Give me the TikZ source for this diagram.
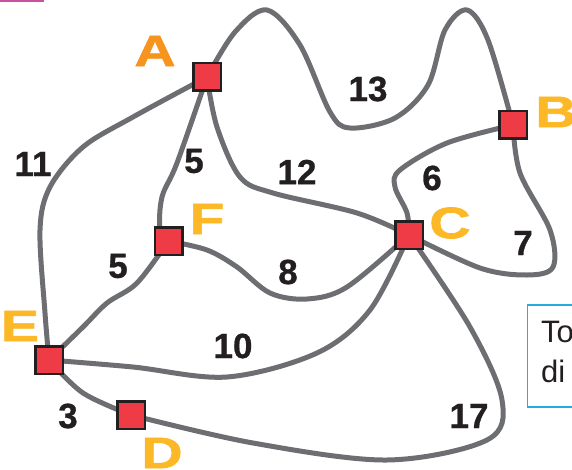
\documentclass[tikz,border=0pt]{standalone}
\usepackage{fontspec}
\setmainfont{Liberation Sans}
\newfontfamily\lblfont{Liberation Sans}[FakeStretch=1.3, FakeBold=1.5]
\newfontfamily\numfont{Liberation Sans}[FakeBold=0.8]
\usetikzlibrary{backgrounds}
\definecolor{edgegray}{HTML}{6D6E71}
\definecolor{nodered}{HTML}{EF3B45}
\definecolor{inkdark}{HTML}{231F20}
\definecolor{lblorange}{HTML}{F7941D}
\definecolor{lblyellow}{HTML}{FDB827}
\definecolor{boxblue}{HTML}{29ABE2}
\definecolor{pinkbar}{HTML}{C8529F}
\begin{document}
\begin{tikzpicture}[x=1pt,y=-1pt,
  vert/.style={draw=inkdark, fill=nodered, line width=2.5pt, minimum size=27.5pt, inner sep=0pt},
  edge/.style={draw=edgegray, line width=5pt, line cap=round, line join=round},
  wlabel/.style={text=inkdark, font=\fontsize{35}{40}\selectfont\numfont\bfseries, inner sep=0pt},
  vlabel/.style={font=\fontsize{44}{48}\selectfont\lblfont\bfseries, inner sep=0pt},
  boxtext/.style={text=inkdark, font=\fontsize{31}{36}\selectfont, inner sep=0pt, anchor=base west}]
\useasboundingbox (0,0) rectangle (572,470);
\clip (0,0) rectangle (572,470);
\fill[pinkbar] (0,0) rectangle (44,1.6);

% vertices
\node[vert] (A) at (207,77) {};
\node[vert] (B) at (513,125) {};
\node[vert] (C) at (409,235) {};
\node[vert] (D) at (131,415) {};
\node[vert] (E) at (49,360) {};
\node[vert] (F) at (168.5,241) {};

% edges
\begin{pgfonlayer}{background}
\draw[edge] plot[smooth, tension=0.55] coordinates {(A) (235,32) (267,10) (300,45) (330,112) (350,128) (395,118) (428,85) (445,30) (467,10) (488,40) (B)};
\draw[edge] plot[smooth, tension=0.55] coordinates {(A) (133,117) (83,147) (50,187) (40,230) (45,313) (E)};
\draw[edge] plot[smooth, tension=0.55] coordinates {(A) (177,163) (162,197) (160,230) (F)};
\draw[edge] plot[smooth, tension=0.55] coordinates {(A) (217,127) (240,177) (273,193) (357,213) (C)};
\draw[edge] plot[smooth, tension=0.55] coordinates {(F) (207,250) (237,267) (270,293) (307,299) (347,287) (C)};
\draw[edge] plot[smooth, tension=0.55] coordinates {(E) (133,367) (227,377) (317,353) (370,310) (C)};
\draw[edge] plot[smooth, tension=0.55] coordinates {(F) (137,283) (107,303) (83,327) (E)};
\draw[edge] plot[smooth, tension=0.55] coordinates {(E) (83,393) (D)};
\draw[edge] plot[smooth, tension=0.55] coordinates {(D) (253,443) (387,460) (487,440) (502,400) (470,327) (C)};
\draw[edge] plot[smooth, tension=0.55] coordinates {(B) (447,143) (400,170) (395,187) (407,213) (C)};
\draw[edge] plot[smooth, tension=0.55] coordinates {(B) (520,173) (550,230) (553,267) (527,275) (480,268) (C)};
\end{pgfonlayer}

% vertex labels
\node[vlabel, text=lblorange] (lA) at (155,51) {A};
\node[vlabel, text=lblyellow] (lB) at (556,112) {B};
\node[vlabel, text=lblyellow] (lC) at (450,223) {C};
\node[vlabel, text=lblyellow] (lD) at (162,453) {D};
\node[vlabel, text=lblyellow] (lE) at (20,326) {E};
\node[vlabel, text=lblyellow] (lF) at (207,219) {F};

% weights
\node[wlabel] (w13) at (368,89) {13};
\node[wlabel] (w11) at (33,164) {11};
\node[wlabel] (w5a) at (194,161) {5};
\node[wlabel] (w5b) at (118,266) {5};
\node[wlabel] (w12) at (297,172) {12};
\node[wlabel] (w6) at (432,178) {6};
\node[wlabel] (w7) at (523,243) {7};
\node[wlabel] (w8) at (288,272) {8};
\node[wlabel] (w10) at (233,346) {10};
\node[wlabel] (w3) at (68,416) {3};
\node[wlabel] (w17) at (469,416) {17};

% cut-off box
\draw[boxblue, line width=1.5pt] (527.5,305) rectangle (600,407);
\node[boxtext] (t1) at (541,342) {To};
\node[boxtext] (t2) at (541,382) {di};
\end{tikzpicture}
\end{document}
